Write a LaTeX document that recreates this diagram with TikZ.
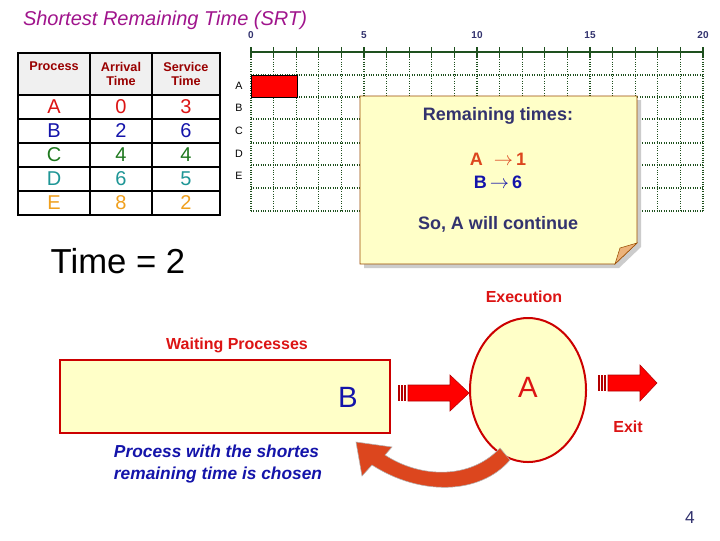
\documentclass[tikz,border=0pt]{standalone}
\usepackage{fontspec}
\setmainfont{Liberation Sans}
\usetikzlibrary{arrows.meta}
\definecolor{gridg}{RGB}{30,80,30}
\definecolor{note}{RGB}{255,255,200}
\definecolor{notetxt}{RGB}{50,50,110}
\definecolor{redt}{RGB}{220,20,20}
\definecolor{bluet}{RGB}{20,20,170}
\definecolor{greent}{RGB}{30,120,30}
\definecolor{tealt}{RGB}{30,150,150}
\definecolor{orat}{RGB}{240,160,30}
\definecolor{magt}{RGB}{160,20,140}
\definecolor{orarr}{RGB}{220,70,30}
\tikzset{
  hdr/.style={font=\bfseries\fontsize{9.5}{10}\selectfont, text=red!60!black, align=center},
  val/.style={font=\fontsize{15}{15}\selectfont},
  rowlab/.style={font=\fontsize{8}{8}\selectfont},
  tick/.style={font=\bfseries\fontsize{7.5}{8}\selectfont, text=notetxt},
  lbl/.style={font=\bfseries\fontsize{12}{12}\selectfont, text=redt},
  notefont/.style={font=\bfseries\fontsize{13.5}{13.5}\selectfont},
  blockarrow/.style={fill=red, draw=red!70!black},
}
\begin{document}
\begin{tikzpicture}[x=0.75pt,y=-0.75pt]
\useasboundingbox (0,0) rectangle (720,540);
\fill[white] (0,0) rectangle (720,540);
\node[font=\itshape\fontsize{15}{15}\selectfont, text=magt] (title) at (165,20) {Shortest Remaining Time (SRT)};
% table
\fill[gray!12] (18,53) rectangle (220,95);
\draw[thick] (18,53) rectangle (220,215);
\foreach \y in {95,119,143,167,191} \draw[thick] (18,\y) -- (220,\y);
\draw[thick] (90,53) -- (90,215) (152,53) -- (152,215);
\node[hdr] (h1) at (54,66) {Process};
\node[hdr] (h2) at (121,74) {Arrival\\Time};
\node[hdr] (h3) at (186,74) {Service\\Time};
\foreach \p/\a/\s/\c [count=\i] in {A/0/3/redt,B/2/6/bluet,C/4/4/greent,D/6/5/tealt,E/8/2/orat}{
  \pgfmathsetmacro\yy{107+24*(\i-1)}
  \node[val,text=\c] (p\i) at (54,\yy) {\p};
  \node[val,text=\c] (a\i) at (121,\yy) {\a};
  \node[val,text=\c] (s\i) at (186,\yy) {\s};
}
% gantt grid
\foreach \k in {0,...,20} \draw[gridg, densely dotted, thick] (251+22.6*\k,52) -- (251+22.6*\k,211);
\foreach \y in {75,97,119,143,165,188,211} \draw[gridg, densely dotted, thick] (251,\y) -- (703,\y);
\draw[gridg, thick] (251,52) -- (703,52);
\foreach \k in {0,...,20} \draw[gridg, thick] (251+22.6*\k,47) -- (251+22.6*\k,57);
\foreach \k in {0,5,10,15,20} \node[tick] (t\k) at (251+22.6*\k,35) {\k};
\foreach \r/\y in {A/86,B/108,C/131,D/154,E/176} \node[rowlab] (r\r) at (239,\y) {\r};
\draw[fill=red] (251,75) rectangle (297,97);
% sticky note
\fill[gray!40] (364,100) -- (641,100) -- (641,247) -- (619,268) -- (364,268) -- cycle;
\draw[orange!60!black, fill=note] (360,96) -- (637,96) -- (637,243) -- (615,264) -- (360,264) -- cycle;
\draw[orange!60!black, fill=brown!50!orange!60] (615,264) -- (637,243) -- (620,248) -- cycle;
\node[notefont, text=notetxt] (rem) at (498,116) {Remaining times:};
\node[notefont, text=orarr] (ra) at (498,159) {A\,\, $\rightarrow$\,1};
\node[notefont, text=bluet] (rb) at (498,182) {B\,$\rightarrow$\,6};
\node[notefont, text=notetxt] (so) at (498,224) {So, A will continue};
\node[font=\fontsize{26}{26}\selectfont] (time) at (118,261) {Time = 2};
% bottom
\node[lbl] (exec) at (524,297) {Execution};
\node[lbl] (wait) at (237,345) {Waiting Processes};
\draw[red!80!black, line width=1.5pt, fill=note] (60,360) rectangle (390,433);
\node[font=\fontsize{22}{22}\selectfont, text=bluet] (B) at (348,397) {B};
\draw[red!80!black, line width=1.5pt, fill=note] (528,390) ellipse [x radius=58, y radius=72];
\node[font=\fontsize{22}{22}\selectfont, text=redt] (A) at (528,387) {A};
% arrow into ellipse
\foreach \x in {399,402,405} \draw[red!70!black, line width=1pt] (\x,385) -- (\x,401);
\draw[blockarrow] (408,385) -- (450,385) -- (450,375) -- (469,393) -- (450,411) -- (450,401) -- (408,401) -- cycle;
% exit arrow
\foreach \x in {599,602,605} \draw[red!70!black, line width=1pt] (\x,375) -- (\x,391);
\draw[blockarrow] (608,375) -- (640,375) -- (640,365) -- (657,383) -- (640,401) -- (640,391) -- (608,391) -- cycle;
\node[lbl] (exit) at (628,427) {Exit};
% curved return arrow
\fill[orarr, draw=gray!60] (500,448) .. controls (470,480) and (420,478) .. (385,455)
  -- (392,447) -- (356,442) -- (362,476) -- (372,465)
  .. controls (420,496) and (480,495) .. (510,460) -- cycle;
\node[font=\bfseries\itshape\fontsize{13}{16}\selectfont, text=bluet, align=left] (note2) at (218,464) {Process with the shortes\\remaining time is chosen};
\node[font=\fontsize{13}{13}\selectfont, text=notetxt] (pg) at (690,518) {4};
\end{tikzpicture}
\end{document}
